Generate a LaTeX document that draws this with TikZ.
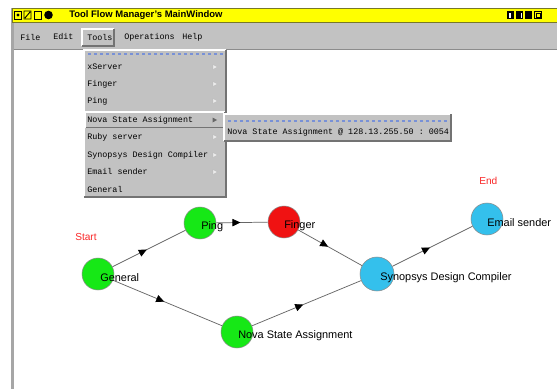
\documentclass[tikz,border=0pt]{standalone}
\usepackage{fontspec}
\setsansfont{Liberation Sans}
\setmonofont{Liberation Mono}
\usetikzlibrary{decorations.markings,arrows.meta}

\definecolor{titleyellow}{RGB}{255,255,0}
\definecolor{titleedge}{RGB}{120,120,40}
\definecolor{menugray}{RGB}{194,194,194}
\definecolor{nodegreen}{RGB}{22,232,22}
\definecolor{nodered}{RGB}{240,18,18}
\definecolor{nodecyan}{RGB}{52,192,236}
\definecolor{tearblue}{RGB}{120,145,215}
\definecolor{labelred}{RGB}{250,40,40}

\newcommand{\MenuL}{84}
\newcommand{\MenuR}{226}
\newcommand{\MenuT}{50}
\newcommand{\MenuB}{197}
\newcommand{\SubL}{224}
\newcommand{\SubR}{451}
\newcommand{\SubT}{114}
\newcommand{\SubB}{141}
\newcommand{\bevelBox}[4]{
    \draw[white, line width=0.9pt] (#1,#4) -- (#1,#2) -- (#3,#2);
    \draw[black!55, line width=0.9pt] (#1,#4) -- (#3,#4) -- (#3,#2);
}

\tikzset{
  menuentry/.style={anchor=west, inner sep=0pt, font=\ttfamily\fontsize{6.3}{7}\selectfont},
  titletext/.style={anchor=west, inner sep=0pt, font=\sffamily\bfseries\fontsize{7.1}{8}\selectfont},
  statenode/.style={circle, draw=black!45, line width=0.4pt, minimum size=24pt, inner sep=0pt},
  statelabel/.style={anchor=west, inner sep=0pt, font=\sffamily\fontsize{8.2}{9}\selectfont},
  marklabel/.style={anchor=west, inner sep=0pt, text=labelred, font=\sffamily\fontsize{7.6}{9}\selectfont},
  flowedge/.style={draw=black!60, line width=0.55pt, postaction={decorate},
    decoration={markings, mark=at position 0.47 with {\arrow[black]{Triangle[length=6pt,width=5.5pt]}}}},
  cascade/.style={fill=white!85!gray, draw=black!30, line width=0.2pt}
}

\begin{document}
\begin{tikzpicture}[x=0.75pt, y=-0.75pt]
    \useasboundingbox (0,0) rectangle (557,389);
    \fill[white] (0,0) rectangle (557,389);

    % window frame
    \fill[black!35] (11,8) rectangle (13.5,389);
    \fill[titleyellow] (12,8) rectangle (557,22);
    \draw[titleedge, line width=0.6pt] (12,8) -- (557,8) (12,22) -- (557,22) (12,8) -- (12,22);
    \fill[menugray] (13.5,22.5) rectangle (557,49);
    \draw[black!45, line width=0.7pt] (13.5,49.5) -- (557,49.5);

    % title bar buttons
    \draw[black, line width=0.7pt] (14.5,11) rectangle (21.5,19);
    \fill[black] (18,15) circle (1.6);
    \draw[black, line width=0.7pt] (24,11) rectangle (31,19) (25,18) -- (30,12);
    \draw[black, line width=0.7pt] (34,11) rectangle (41,19);
    \fill[black] (48.5,15) circle (4.3);
    \node[titletext] (title) at (69,15) {Tool Flow Manager's MainWindow};
    \fill[black] (507,11) rectangle (514,19);
    \fill[white] (508.5,12.5) rectangle (510.5,17.5);
    \fill[black] (516,11) rectangle (523,19);
    \fill[white] (520.5,12.5) rectangle (521.8,17.5);
    \fill[black] (525,11) rectangle (532,19);
    \draw[black, line width=0.7pt] (534.5,11.5) rectangle (541.5,18.5) (536,17) rectangle (540,13);

    % menu bar
    \node[menuentry] (mfile) at (20,37) {File};
    \node[menuentry] (medit) at (53,37) {Edit};
    \fill[menugray] (82,29) rectangle (114,46);
    \bevelBox{82}{29}{114}{46}
    \node[menuentry] (mtools) at (87,37) {Tools};
    \node[menuentry] (mops) at (124,37) {Operations};
    \node[menuentry] (mhelp) at (182,37) {Help};

    % tools menu
    \fill[menugray] (\MenuL,\MenuT) rectangle (\MenuR,\MenuB);
    \bevelBox{\MenuL}{\MenuT}{\MenuR}{\MenuB}
    \draw[tearblue, dash pattern=on 2pt off 2.5pt, line width=0.8pt] (88,54) -- (223,54);
    \fill[menugray] (85.5,112) rectangle (225,127.5);
    \bevelBox{85.5}{112}{225}{127.5}
    \foreach \txt/\y [count=\i] in {xServer/67, Finger/84, Ping/101,
        Nova State Assignment/120, Ruby server/137, Synopsys Design Compiler/155,
        Email sender/172, General/189}
        \node[menuentry] (item\i) at (87,\y) {\txt};
    \foreach \y in {67,84,101,137,155,172}
        \fill[cascade] (213,\y-2.5) -- (217.5,\y) -- (213,\y+2.5) -- cycle;
    \fill[black!60] (212.5,117.5) -- (217,120) -- (212.5,122.5) -- cycle;

    % cascade submenu
    \fill[menugray] (\SubL,\SubT) rectangle (\SubR,\SubB);
    \bevelBox{\SubL}{\SubT}{\SubR}{\SubB}
    \draw[tearblue, dash pattern=on 2pt off 2.5pt, line width=0.8pt] (228,121) -- (448,121);
    \node[menuentry] (subitem) at (227,132.5) {Nova State Assignment @ 128.13.255.50 : 0054};

    % flow graph
    \node[statenode, fill=nodegreen] (general) at (98,274) {};
    \node[statenode, fill=nodegreen] (ping) at (200,223) {};
    \node[statenode, fill=nodered] (finger) at (284,222) {};
    \node[statenode, fill=nodegreen] (nova) at (237,332) {};
    \node[statenode, fill=nodecyan, minimum size=25.5pt] (synopsys) at (377,274) {};
    \node[statenode, fill=nodecyan] (email) at (487,219) {};

    \draw[flowedge] (general) -- (ping);
    \draw[flowedge] (ping) -- (finger);
    \draw[flowedge] (finger) -- (synopsys);
    \draw[flowedge] (general) -- (nova);
    \draw[flowedge] (nova) -- (synopsys);
    \draw[flowedge] (synopsys) -- (email);

    \node[statelabel] (generallbl) at (100,278) {General};
    \node[statelabel] (pinglbl) at (201,227) {Ping};
    \node[statelabel] (fingerlbl) at (284,226) {Finger};
    \node[statelabel] (novalbl) at (238,336) {Nova State Assignment};
    \node[statelabel] (synopsyslbl) at (380,278) {Synopsys Design Compiler};
    \node[statelabel] (emaillbl) at (487,223) {Email sender};
    \node[marklabel] (start) at (75,237) {Start};
    \node[marklabel] (end) at (479,181) {End};
\end{tikzpicture}
\end{document}
